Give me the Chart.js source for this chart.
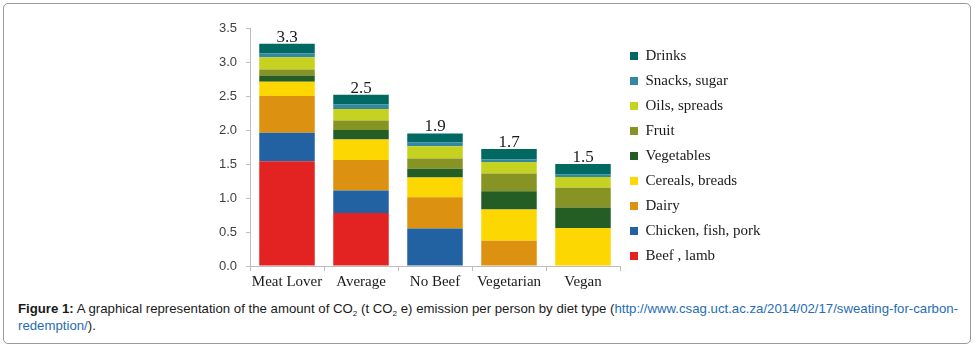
<!DOCTYPE html>
<html><head><meta charset="utf-8">
<script src="https://cdn.jsdelivr.net/npm/chart.js@4.4.0/dist/chart.umd.min.js"></script>
<style>
html,body{margin:0;padding:0;background:#fff;}
body{width:975px;height:348px;position:relative;overflow:hidden;}
#frame{position:absolute;left:3px;top:3px;width:966px;height:339px;border:1px solid #9a9a9a;border-radius:5px;}
#wrap{position:absolute;left:0;top:0;width:975px;height:290px;}
#caption{position:absolute;left:18px;top:300px;font-family:"Liberation Sans",Arial,sans-serif;font-size:13px;line-height:17px;color:#1a1a1a;white-space:nowrap;transform-origin:0 0;}
#caption b{font-weight:bold}
#caption a{color:#1f6db5;text-decoration:none}
#caption sub{font-size:8px;vertical-align:-3px;line-height:0}
</style>
</head><body>
<div id="frame"></div>
<div id="wrap"><canvas id="c"></canvas></div>
<div id="caption"><span id="line1"><b>Figure 1:</b> A graphical representation of the amount of CO<sub>2</sub> (t CO<sub>2</sub> e) emission per person by diet type (<a>http://www.csag.uct.ac.za/2014/02/17/sweating-for-carbon-</a></span><br><span><a>redemption/</a>).</span></div>
<script>
const categories = ['Meat Lover', 'Average', 'No Beef', 'Vegetarian', 'Vegan'];
const beefLamb        = [1.54, 0.78, 0,    0,    0];
const chickenFishPork = [0.42, 0.33, 0.55, 0,    0];
const dairy           = [0.54, 0.45, 0.46, 0.37, 0];
const cerealsBreads   = [0.21, 0.30, 0.29, 0.46, 0.56];
const vegetables      = [0.09, 0.14, 0.13, 0.27, 0.30];
const fruit           = [0.09, 0.14, 0.15, 0.26, 0.29];
const oilsSpreads     = [0.18, 0.17, 0.18, 0.17, 0.16];
const snacksSugar     = [0.06, 0.07, 0.06, 0.04, 0.04];
const drinks          = [0.14, 0.14, 0.13, 0.15, 0.15];
const totalLabels     = ['3.3', '2.5', '1.9', '1.7', '1.5'];
const seriesNames = ['Beef , lamb', 'Chicken, fish, pork', 'Dairy', 'Cereals, breads', 'Vegetables', 'Fruit', 'Oils, spreads', 'Snacks, sugar', 'Drinks'];
const seriesColors = ['#e32322', '#2262a2', '#dd9111', '#fdd702', '#245e25', '#879424', '#c5d21f', '#3387a0', '#006962'];
const seriesValues = [beefLamb, chickenFishPork, dairy, cerealsBreads, vegetables, fruit, oilsSpreads, snacksSugar, drinks];

const datasets = seriesNames.map((name, i) => ({
  label: name,
  data: seriesValues[i],
  backgroundColor: seriesColors[i],
  borderWidth: 0,
  barPercentage: 0.75,
  categoryPercentage: 1.0
}));

const totalsPlugin = {
  id: 'totals',
  afterLayout(chart) {
    // nudge the legend column up slightly
    chart.legend.top -= 3;
    chart.legend.bottom -= 3;
  },
  afterDatasetsDraw(chart) {
    const ctx = chart.ctx;
    const yScale = chart.scales.y;
    const meta = chart.getDatasetMeta(0);
    ctx.save();
    ctx.font = '17px "Liberation Serif", "DejaVu Serif", serif';
    ctx.fillStyle = '#1a1a1a';
    ctx.textAlign = 'center';
    ctx.textBaseline = 'alphabetic';
    categories.forEach((c, i) => {
      let sum = 0;
      seriesValues.forEach(s => { sum += s[i]; });
      const x = meta.data[i].x;
      const y = yScale.getPixelForValue(sum);
      ctx.fillText(totalLabels[i], x, y - 2);
    });
    ctx.restore();
  }
};

const axisColor = '#bdbdbd';
const chart = new Chart(document.getElementById('c'), {
  type: 'bar',
  data: { labels: categories, datasets },
  options: {
    responsive: true,
    maintainAspectRatio: false,
    animation: false,
    devicePixelRatio: 1,
    layout: { padding: { top: 28, left: 0, right: 200, bottom: 0 } },
    plugins: {
      tooltip: { enabled: false },
      legend: {
        position: 'right',
        reverse: true,
        align: 'center',
        labels: {
          boxWidth: 8, boxHeight: 8, padding: 10,
          color: '#1a1a1a',
          font: { family: '"Liberation Serif", "DejaVu Serif", serif', size: 15 }
        }
      }
    },
    scales: {
      x: {
        stacked: true,
        grid: { display: true, drawOnChartArea: false, drawTicks: true, tickLength: 5, color: axisColor, offset: true },
        border: { display: true, color: axisColor, width: 1 },
        ticks: { color: '#1a1a1a', padding: 2, maxRotation: 0, minRotation: 0, autoSkip: false,
                 font: { family: '"Liberation Serif", "DejaVu Serif", serif', size: 15 } },
        afterFit(scale) { scale.height = 24; }
      },
      y: {
        stacked: true,
        min: 0, max: 3.5,
        grid: { display: true, drawOnChartArea: false, drawTicks: true, tickLength: 4, color: axisColor },
        border: { display: true, color: axisColor, width: 1 },
        ticks: {
          stepSize: 0.5, padding: 9, color: '#404040',
          font: { family: '"Liberation Sans", Arial, sans-serif', size: 13 },
          callback: v => Number(v).toFixed(1)
        },
        afterFit(scale) { scale.width = 250; }
      }
    }
  },
  plugins: [totalsPlugin]
});
// fit the plot area so that it ends at x = 620
chart.options.layout.padding.right = Math.max(0, 975 - 620 - chart.legend.width);
chart.update();

// fit caption line width
const line1 = document.getElementById('line1');
const w = line1.getBoundingClientRect().width;
document.getElementById('caption').style.transform = 'scaleX(' + (940 / w) + ')';
</script>
</body></html>
